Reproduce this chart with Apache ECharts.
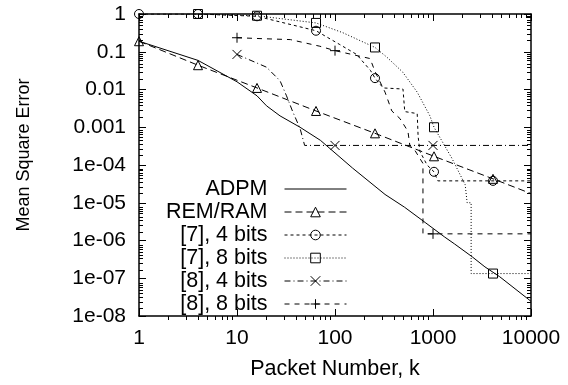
<!DOCTYPE html>
<html>
<head>
<meta charset="utf-8">
<script src="https://cdn.jsdelivr.net/npm/echarts@6/dist/echarts.min.js"></script>
<style>
  html, body { margin: 0; padding: 0; background: #fff; }
  #chart { width: 568px; height: 385px; }
</style>
</head>
<body>
<div id="chart"></div>
<script>
// values (log-log)
const adpm = [[1, 0.19], [4, 0.059], [10, 0.016], [16, 0.0068], [20, 0.0037], [27.5, 0.002], [44, 0.001],
  [71, 4.5e-4], [151, 8.3e-5], [324, 1.66e-5], [513, 7.6e-6], [832, 3e-6], [1318, 1.23e-6], [1660, 8.1e-7],
  [2512, 3.7e-7], [3388, 2e-7], [4786, 1.1e-7], [10000, 2.45e-8]];
const remRam = [[1, 0.19], [4, 0.044], [16, 0.011], [64, 0.0027], [256, 6.9e-4], [1024, 1.7e-4],
  [4096, 4.3e-5], [10000, 1.75e-5]];
const ref7bits4 = [[1, 1], [4, 1], [16, 0.87], [64, 0.36], [112, 0.155], [166, 0.085], [230, 0.032], [256, 0.02],
  [310, 0.011], [494, 0.0103], [515, 0.0026], [690, 0.0023], [705, 5.7e-4], [735, 2.3e-4], [870, 1e-4],
  [1024, 6.6e-5], [1120, 3.8e-5], [4096, 3.8e-5], [10000, 3.8e-5]];
const ref7bits8 = [[4, 1], [16, 0.9], [64, 0.58], [120, 0.32], [256, 0.13], [340, 0.071], [490, 0.029],
  [690, 0.0085], [930, 0.002], [1024, 0.001], [1560, 1.5e-4], [2130, 3e-5], [2230, 1e-5], [2450, 1e-5],
  [2450, 1.33e-7], [4096, 1.33e-7], [10000, 1.33e-7]];
const ref8bits4 = [[10, 0.085], [20, 0.039], [27.5, 0.017], [32, 0.0068], [37, 0.0026], [44, 9.3e-4],
  [49, 3.3e-4], [100, 3.3e-4], [1000, 3.3e-4], [10000, 3.3e-4]];
const ref8bits8 = [[10, 0.235], [20, 0.22], [35, 0.21], [70, 0.14], [100, 0.107], [228, 0.066], [256, 0.03],
  [324, 0.0085], [380, 0.0027], [460, 0.0017], [555, 7.8e-4], [580, 3.3e-4], [650, 2.5e-4], [790, 1.1e-4],
  [790, 1.5e-6], [1000, 1.5e-6], [10000, 1.5e-6]];

const marks4x = [1, 4, 16, 64, 256, 1024, 4096];
const marks10x = [10, 100, 1000];

const xMajor = [1, 10, 100, 1000, 10000];
const xLabels = ['1', '10', '100', '1000', '10000'];
const yMajor = [1, 0.1, 0.01, 0.001, 1e-4, 1e-5, 1e-6, 1e-7, 1e-8];
const yLabels = ['1', '0.1', '0.01', '0.001', '1e-04', '1e-05', '1e-06', '1e-07', '1e-08'];

const xMinor = [];
for (let d = 1; d < 10000; d *= 10) for (let m = 2; m < 10; m++) xMinor.push(m * d);
const yMinor = [];
for (let e = -8; e < 0; e++) for (let m = 2; m < 10; m++) yMinor.push(m * Math.pow(10, e));

const FONT = '"Liberation Sans", Arial, Helvetica, sans-serif';
const CROSS = 'path://M0,0L10,10M10,0L0,10';
const PLUS = 'path://M5,0L5,10M0,5L10,5';

function lookup(values, labels) {
  return (v) => {
    const i = values.findIndex((t) => Math.abs(Math.log10(t) - Math.log10(v)) < 1e-6);
    return i < 0 ? '' : labels[i];
  };
}

function withMarks(points, markAt) {
  return points.map(([x, y], i) => {
    const first = points.findIndex((p) => p[0] === x);
    return markAt.includes(x) && first === i ? [x, y] : { value: [x, y], symbol: 'none' };
  });
}

function lineSeries(name, data, dash, symbol, size) {
  const hidden = symbol === 'none';
  return {
    name,
    type: 'line',
    data,
    symbol,
    symbolSize: size,
    showAllSymbol: true,
    lineStyle: { color: '#000', width: 1, type: dash },
    itemStyle: hidden
      ? { color: 'transparent', borderColor: 'transparent', borderWidth: 0, opacity: 0 }
      : { color: 'transparent', borderColor: '#000', borderWidth: 1 },
    emphasis: { disabled: true },
    silent: true,
  };
}

const gridRect = { left: 139, right: 37, top: 14, bottom: 65 };

function logAxis(gridIndex, position, min, max, ticks, len, withLine, extra) {
  return Object.assign({
    type: 'log',
    logBase: 10,
    gridIndex,
    position,
    min,
    max,
    axisLine: { show: withLine, onZero: false, lineStyle: { color: '#000', width: 1.5 } },
    axisTick: { show: true, inside: true, length: len, customValues: ticks, lineStyle: { color: '#000', width: 1 } },
    axisLabel: { show: false },
    splitLine: { show: false },
    minorTick: { show: false },
  }, extra || {});
}

const chart = echarts.init(document.getElementById('chart'), null, { renderer: 'canvas' });

chart.setOption({
  animation: false,
  backgroundColor: '#fff',
  textStyle: { fontFamily: FONT },
  grid: [Object.assign({}, gridRect), Object.assign({}, gridRect)],
  xAxis: [
    logAxis(0, 'bottom', 1, 10000, xMajor, 7, true, {
      name: 'Packet Number, k',
      nameLocation: 'middle',
      nameGap: 42,
      nameTextStyle: { fontSize: 21.5, color: '#000', fontFamily: FONT },
      axisLabel: {
        show: true, customValues: xMajor, margin: 12, fontSize: 21, color: '#000', fontFamily: FONT,
        formatter: lookup(xMajor, xLabels),
      },
    }),
    logAxis(0, 'top', 1, 10000, xMajor, 7, true),
    logAxis(1, 'bottom', 1, 10000, xMinor, 4, false),
    logAxis(1, 'top', 1, 10000, xMinor, 4, false),
  ],
  yAxis: [
    logAxis(0, 'left', 1e-8, 1, yMajor, 7, true, {
      name: 'Mean Square Error',
      nameLocation: 'middle',
      nameGap: 106,
      nameTextStyle: { fontSize: 18, color: '#000', fontFamily: FONT, padding: [0, 0, 0, 20] },
      axisLabel: {
        show: true, customValues: yMajor, margin: 13, fontSize: 21, color: '#000', fontFamily: FONT,
        formatter: lookup(yMajor, yLabels),
      },
    }),
    logAxis(0, 'right', 1e-8, 1, yMajor, 7, true),
    logAxis(1, 'left', 1e-8, 1, yMinor, 4, false),
    logAxis(1, 'right', 1e-8, 1, yMinor, 4, false),
  ],
  legend: {
    orient: 'vertical',
    align: 'right',
    right: 221,
    top: 178,
    padding: 0,
    itemWidth: 62,
    itemHeight: 12,
    itemGap: 1,
    selectedMode: false,
    lineStyle: { width: 1 },
    itemStyle: { borderWidth: 1 },
    textStyle: { fontSize: 21.5, lineHeight: 20, color: '#000', fontFamily: FONT, padding: [0, 12, 0, 0] },
    data: ['ADPM', 'REM/RAM', '[7], 4 bits', '[7], 8 bits', '[8], 4 bits', '[8], 8 bits'],
  },
  series: [
    lineSeries('ADPM', adpm, 'solid', 'none', 0),
    lineSeries('REM/RAM', withMarks(remRam, marks4x), [7, 4], 'triangle', 9),
    lineSeries('[7], 4 bits', withMarks(ref7bits4, marks4x), [3, 3], 'circle', 9),
    lineSeries('[7], 8 bits', withMarks(ref7bits8, marks4x), [1, 2], 'rect', 9),
    lineSeries('[8], 4 bits', withMarks(ref8bits4, marks10x), [6, 3, 1, 3], CROSS, 9),
    lineSeries('[8], 8 bits', withMarks(ref8bits8, marks10x), [5, 5], PLUS, 10),
  ],
});
</script>
</body>
</html>
